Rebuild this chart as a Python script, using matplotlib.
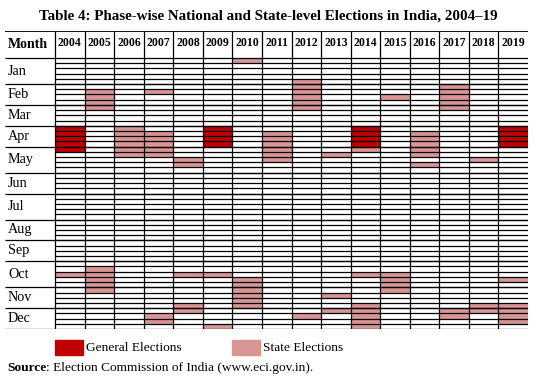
import numpy as np
import matplotlib.pyplot as plt
from matplotlib.patches import Rectangle

plt.rcParams['font.family'] = ['Liberation Serif', 'DejaVu Serif']

years = list(range(2004, 2020))
months = ["Jan", "Feb", "Mar", "Apr", "May", "Jun",
          "Jul", "Aug", "Sep", "Oct", "Nov", "Dec"]
weeks_per_month = [5, 4, 4, 4, 5, 4, 5, 4, 4, 5, 4, 4]

# (year, first week, number of weeks)
general_runs = [(2004, 13, 5), (2009, 13, 4), (2014, 13, 4), (2019, 13, 4)]
state_runs = [
    (2004, 41, 1),
    (2005, 6, 4), (2005, 40, 5),
    (2006, 13, 6),
    (2007, 6, 1), (2007, 14, 5), (2007, 49, 2),
    (2008, 19, 2), (2008, 41, 1), (2008, 47, 2),
    (2009, 41, 1), (2009, 51, 1),
    (2010, 0, 1), (2010, 42, 6),
    (2011, 14, 6),
    (2012, 4, 6), (2012, 49, 1),
    (2013, 18, 1), (2013, 45, 1), (2013, 48, 1),
    (2014, 17, 1), (2014, 41, 1), (2014, 47, 5),
    (2015, 7, 1), (2015, 41, 4),
    (2016, 14, 5), (2016, 20, 1),
    (2017, 5, 5), (2017, 48, 2),
    (2018, 19, 1), (2018, 47, 2),
    (2019, 42, 1), (2019, 47, 4),
]

dark = "#C00000"
light = "#D99594"

W, H = 536, 380
fig = plt.figure(figsize=(W / 100, H / 100), dpi=100)

# table area in pixels: x 5..528, y 31..329
x0, x1, y0, y1 = 5, 528, 31, 329
ax = fig.add_axes([x0 / W, 1 - y1 / H, (x1 - x0) / W, (y1 - y0) / H])
ax.axis("off")

ncol = len(years)
nweek = sum(weeks_per_month)
colw = (528 - 55) / ncol          # pixels per column
roww = (329 - 58) / nweek         # pixels per week row
label_w = (55 - x0) / colw        # label column width in column units
head_h = (58 - y0) / roww         # header height in row units

ax.set_xlim(-label_w, ncol)
ax.set_ylim(nweek, -head_h)

# cells
for yr, start, n in state_runs:
    ax.bar(years.index(yr) + 0.5, n, bottom=start, width=1, color=light,
           edgecolor="none", zorder=1)
for yr, start, n in general_runs:
    ax.bar(years.index(yr) + 0.5, n, bottom=start, width=1, color=dark,
           edgecolor="none", zorder=1)

# grid lines
ax.hlines(np.arange(1, nweek), 0, ncol, color="black", lw=0.9, zorder=2)
bounds = np.concatenate([[0], np.cumsum(weeks_per_month)])
ax.hlines(bounds, -label_w, ncol, color="black", lw=0.9, zorder=2)
ax.hlines(-head_h, -label_w, ncol, color="black", lw=1.3, zorder=2)
ax.vlines(np.arange(0, ncol), -head_h, nweek, color="black", lw=0.9, zorder=2)

# header text
ax.text(-label_w + 0.1, -head_h / 2, "Month", fontsize=10, fontweight="bold",
        ha="left", va="center")
for i, yr in enumerate(years):
    ax.text(i + 0.5, -head_h / 2 - 0.3, str(yr), fontsize=8.5,
            fontweight="bold", ha="center", va="center")

# month labels
for m, a, b in zip(months, bounds[:-1], bounds[1:]):
    ax.text(-label_w + 0.1, (a + b) / 2, m, fontsize=10.2, ha="left",
            va="center")

fig.text(268 / W, 1 - 16 / H,
         "Table 4: Phase-wise National and State-level Elections in India, 2004\u201319",
         fontsize=10.8, fontweight="bold", ha="center", va="center")

# legend
fig.patches.append(Rectangle((55 / W, 1 - 355 / H), 28 / W, 15 / H,
                             color=dark, transform=fig.transFigure))
fig.text(86 / W, 1 - 348 / H, "General Elections", fontsize=9.6,
         ha="left", va="center")
fig.patches.append(Rectangle((232 / W, 1 - 355 / H), 28 / W, 15 / H,
                             color=light, transform=fig.transFigure))
fig.text(263 / W, 1 - 348 / H, "State Elections", fontsize=9.6,
         ha="left", va="center")

t = fig.text(7 / W, 1 - 368 / H, "Source", fontsize=9.6, fontweight="bold",
             ha="left", va="center")
fig.canvas.draw()
bb = t.get_window_extent()
fig.text(bb.x1 / W, 1 - 368 / H, ": Election Commission of India (www.eci.gov.in).",
         fontsize=9.6, ha="left", va="center")

fig.savefig("out.png", dpi=100)
